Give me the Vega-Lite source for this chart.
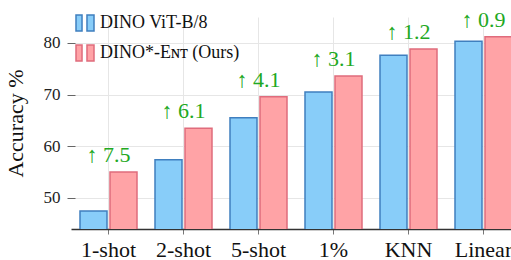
{
  "$schema": "https://vega.github.io/schema/vega-lite/v6.json",
  "width": 440,
  "height": 212,
  "autosize": {"type": "none"},
  "padding": {"left": 71, "top": 17, "right": 0, "bottom": 31},
  "background": "white",
  "config": {"view": {"stroke": null}, "font": "Liberation Serif"},
  "data": {
    "values": [
      {"task": "1-shot", "model": "DINO ViT-B/8", "acc": 47.5},
      {"task": "1-shot", "model": "DINO*-Eɴᴛ (Ours)", "acc": 55.0, "gain": "↑ 7.5"},
      {"task": "2-shot", "model": "DINO ViT-B/8", "acc": 57.4},
      {"task": "2-shot", "model": "DINO*-Eɴᴛ (Ours)", "acc": 63.5, "gain": "↑ 6.1"},
      {"task": "5-shot", "model": "DINO ViT-B/8", "acc": 65.5},
      {"task": "5-shot", "model": "DINO*-Eɴᴛ (Ours)", "acc": 69.6, "gain": "↑ 4.1"},
      {"task": "1%", "model": "DINO ViT-B/8", "acc": 70.5},
      {"task": "1%", "model": "DINO*-Eɴᴛ (Ours)", "acc": 73.6, "gain": "↑ 3.1"},
      {"task": "KNN", "model": "DINO ViT-B/8", "acc": 77.6},
      {"task": "KNN", "model": "DINO*-Eɴᴛ (Ours)", "acc": 78.8, "gain": "↑ 1.2"},
      {"task": "Linear", "model": "DINO ViT-B/8", "acc": 80.3},
      {"task": "Linear", "model": "DINO*-Eɴᴛ (Ours)", "acc": 81.2, "gain": "↑ 0.9"}
    ]
  },
  "layer": [
    {
      "mark": {"type": "bar", "strokeWidth": 1.5, "clip": true},
      "encoding": {
        "x": {
          "field": "task", "type": "nominal",
          "sort": ["1-shot", "2-shot", "5-shot", "1%", "KNN", "Linear"],
          "scale": {"range": [0, 450], "paddingInner": 0.24, "paddingOuter": 0.12},
          "axis": {
            "title": null, "labelAngle": 0, "labelFontSize": 22, "labelColor": "#111",
            "labelFont": "Liberation Serif", "domainColor": "#333", "domainWidth": 1.5,
            "tickColor": "#777", "tickSize": 5, "grid": true, "gridColor": "#e6e6e6",
            "bandPosition": 0.5, "labelPadding": 5
          }
        },
        "xOffset": {
          "field": "model", "type": "nominal",
          "sort": ["DINO ViT-B/8", "DINO*-Eɴᴛ (Ours)"],
          "scale": {"paddingInner": 0.1, "paddingOuter": 0}
        },
        "y": {
          "field": "acc", "type": "quantitative",
          "scale": {"domain": [44, 85], "nice": false, "zero": false},
          "axis": {
            "title": "Accuracy %", "values": [50, 60, 70, 80], "domain": false,
            "offset": -4, "tickSize": 8, "tickColor": "#666", "labelPadding": 7,
            "labelFontSize": 17, "labelColor": "#222", "labelFont": "Liberation Serif",
            "titleFontSize": 22, "titleFontWeight": "normal", "titleFont": "Liberation Serif",
            "titleColor": "#111", "gridColor": "#e6e6e6", "titlePadding": 16
          }
        },
        "fill": {
          "field": "model", "type": "nominal",
          "scale": {"domain": ["DINO ViT-B/8", "DINO*-Eɴᴛ (Ours)"], "range": ["#88cdf9", "#ffa3a6"]},
          "legend": {
            "title": null, "orient": "none", "legendX": 4, "legendY": -4,
            "symbolType": "M-1,-0.89H-0.33V0.89H-1Z M0.22,-0.89H1V0.89H0.22Z",
            "symbolSize": 324, "symbolStrokeWidth": 1.5, "labelFontSize": 18,
            "labelFont": "Liberation Serif", "labelColor": "#111", "labelLimit": 300,
            "rowPadding": 6, "labelOffset": 5
          }
        },
        "stroke": {
          "field": "model", "type": "nominal",
          "scale": {"domain": ["DINO ViT-B/8", "DINO*-Eɴᴛ (Ours)"], "range": ["#3f7fbf", "#e06c7c"]}
        }
      }
    },
    {
      "transform": [{"filter": "datum.gain"}],
      "mark": {"type": "text", "dy": -10, "baseline": "alphabetic", "fontSize": 22, "color": "#22a822", "font": "Liberation Serif"},
      "encoding": {
        "x": {"field": "task", "type": "nominal", "sort": ["1-shot", "2-shot", "5-shot", "1%", "KNN", "Linear"]},
        "y": {"field": "acc", "type": "quantitative"},
        "text": {"field": "gain"}
      }
    }
  ]
}
